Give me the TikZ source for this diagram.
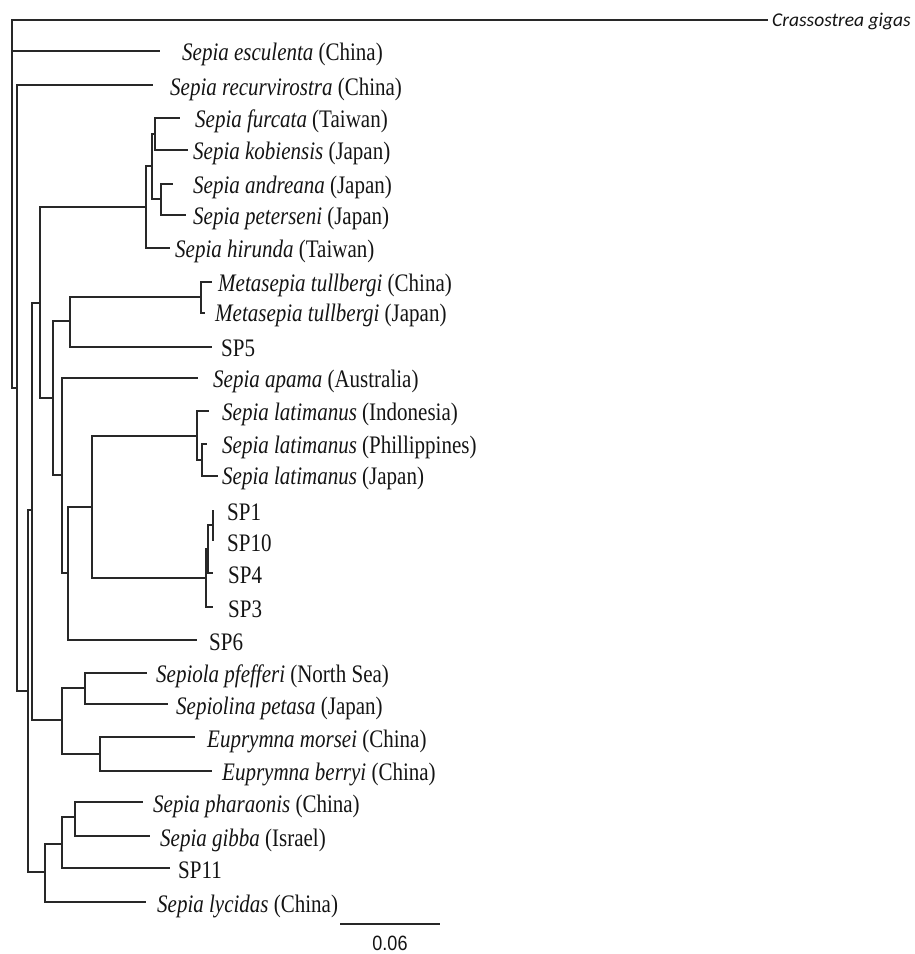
\documentclass[tikz,border=0pt]{standalone}
\usepackage{fontspec}
\usepackage{graphicx}
\setmainfont{Liberation Serif}
\newfontfamily\crassfont{Carlito}
\newfontfamily\barfont{Liberation Sans}
\definecolor{lc}{RGB}{40,40,40}
\definecolor{tc}{RGB}{20,20,20}
\newcommand\tx[1]{\scalebox{1}[1.2]{#1}}
\tikzset{
  br/.style={draw=lc, line width=1.4pt},
  lab/.style={anchor=base west, inner sep=0pt, text=tc, font=\fontsize{21}{24}\selectfont},
}
\begin{document}
\begin{tikzpicture}[x=1pt,y=-1pt]
\useasboundingbox (0,0) rectangle (915,954);
% internal nodes
\coordinate (nR0) at (12,200);
\coordinate (nN1) at (17,388);
\coordinate (nN2) at (28,691);
\coordinate (nC) at (32,510);
\coordinate (nA) at (40,303);
\coordinate (nH) at (146,207);
\coordinate (nI) at (152,166);
\coordinate (nJ) at (155,134);
\coordinate (nK) at (161,199);
\coordinate (nB) at (53,398);
\coordinate (nL) at (70,321);
\coordinate (nM) at (201,297);
\coordinate (nN) at (62,475);
\coordinate (nO) at (68,573);
\coordinate (nP) at (92,507);
\coordinate (nQ) at (197,436);
\coordinate (nS) at (202,460);
\coordinate (nR) at (206,578);
\coordinate (nT) at (208,549);
\coordinate (nU) at (213,525);
\coordinate (nD) at (62,720);
\coordinate (nV) at (85,688);
\coordinate (nW) at (100,754);
\coordinate (nE) at (45,872);
\coordinate (nF) at (62,844);
\coordinate (nG) at (75,817);
% tips
\coordinate (tCras) at (768,20);
\coordinate (tEsc) at (160,51);
\coordinate (tRec) at (153,85);
\coordinate (tFur) at (180,118);
\coordinate (tKob) at (188,150);
\coordinate (tAnd) at (173,184);
\coordinate (tPet) at (186,215);
\coordinate (tHir) at (170,248);
\coordinate (tMetC) at (212,282);
\coordinate (tMetJ) at (205,313);
\coordinate (tSP5) at (212,347);
\coordinate (tApa) at (198,378);
\coordinate (tLatI) at (209,411);
\coordinate (tLatP) at (207,444);
\coordinate (tLatJ) at (218,476);
\coordinate (tSP1) at (213,510);
\coordinate (tSP10) at (213,541);
\coordinate (tSP4) at (213,573);
\coordinate (tSP3) at (213,607);
\coordinate (tSP6) at (197,640);
\coordinate (tSpla) at (147,673);
\coordinate (tSpna) at (168,704);
\coordinate (tMor) at (195,737);
\coordinate (tBer) at (212,771);
\coordinate (tPha) at (143,802);
\coordinate (tGib) at (150,836);
\coordinate (tSP11) at (170,868);
\coordinate (tLyc) at (146,902);
% branches
\draw[br] (nR0) |- (tCras) (nR0) |- (tEsc) (nR0) |- (nN1);
\draw[br] (nN1) |- (tRec) (nN1) |- (nN2);
\draw[br] (nN2) |- (nC) (nN2) |- (nE);
\draw[br] (nC) |- (nA) (nC) |- (nD);
\draw[br] (nA) |- (nH) (nA) |- (nB);
\draw[br] (nH) |- (nI) (nH) |- (tHir);
\draw[br] (nI) |- (nJ) (nI) |- (nK);
\draw[br] (nJ) |- (tFur) (nJ) |- (tKob);
\draw[br] (nK) |- (tAnd) (nK) |- (tPet);
\draw[br] (nB) |- (nL) (nB) |- (nN);
\draw[br] (nL) |- (nM) (nL) |- (tSP5);
\draw[br] (nM) |- (tMetC) (nM) |- (tMetJ);
\draw[br] (nN) |- (tApa) (nN) |- (nO);
\draw[br] (nO) |- (nP) (nO) |- (tSP6);
\draw[br] (nP) |- (nQ) (nP) |- (nR);
\draw[br] (nQ) |- (tLatI) (nQ) |- (nS);
\draw[br] (nS) |- (tLatP) (nS) |- (tLatJ);
\draw[br] (nR) |- (nT) (nR) |- (tSP3);
\draw[br] (nT) |- (nU) (nT) |- (tSP4);
\draw[br] (nU) |- (tSP1) (nU) |- (tSP10);
\draw[br] (nD) |- (nV) (nD) |- (nW);
\draw[br] (nV) |- (tSpla) (nV) |- (tSpna);
\draw[br] (nW) |- (tMor) (nW) |- (tBer);
\draw[br] (nE) |- (nF) (nE) |- (tLyc);
\draw[br] (nF) |- (nG) (nF) |- (tSP11);
\draw[br] (nG) |- (tPha) (nG) |- (tGib);
% labels
\node[anchor=base west, inner sep=0pt, text=tc, font=\crassfont\itshape\fontsize{19.5}{22}\selectfont] (lCras) at (772,26) {Crassostrea gigas};
\node[lab] (lEsc) at (182,60) {\tx{\textit{Sepia esculenta} (China)}};
\node[lab] (lRec) at (170,95) {\tx{\textit{Sepia recurvirostra} (China)}};
\node[lab] (lFur) at (195,127) {\tx{\textit{Sepia furcata} (Taiwan)}};
\node[lab] (lKob) at (193,159) {\tx{\textit{Sepia kobiensis} (Japan)}};
\node[lab] (lAnd) at (193,193) {\tx{\textit{Sepia andreana} (Japan)}};
\node[lab] (lPet) at (193,224) {\tx{\textit{Sepia peterseni} (Japan)}};
\node[lab] (lHir) at (175,257) {\tx{\textit{Sepia hirunda} (Taiwan)}};
\node[lab] (lMetC) at (218,291) {\tx{\textit{Metasepia tullbergi} (China)}};
\node[lab] (lMetJ) at (215,321) {\tx{\textit{Metasepia tullbergi} (Japan)}};
\node[lab] (lSP5) at (221,356) {\tx{SP5}};
\node[lab] (lApa) at (213,387) {\tx{\textit{Sepia apama} (Australia)}};
\node[lab] (lLatI) at (222,420) {\tx{\textit{Sepia latimanus} (Indonesia)}};
\node[lab] (lLatP) at (222,453) {\tx{\textit{Sepia latimanus} (Phillippines)}};
\node[lab] (lLatJ) at (222,484) {\tx{\textit{Sepia latimanus} (Japan)}};
\node[lab] (lSP1) at (227,520) {\tx{SP1}};
\node[lab] (lSP10) at (227,551) {\tx{SP10}};
\node[lab] (lSP4) at (228,583) {\tx{SP4}};
\node[lab] (lSP3) at (228,617) {\tx{SP3}};
\node[lab] (lSP6) at (209,650) {\tx{SP6}};
\node[lab] (lSpla) at (156,682) {\tx{\textit{Sepiola pfefferi} (North Sea)}};
\node[lab] (lSpna) at (176,714) {\tx{\textit{Sepiolina petasa} (Japan)}};
\node[lab] (lMor) at (207,747) {\tx{\textit{Euprymna morsei} (China)}};
\node[lab] (lBer) at (222,780) {\tx{\textit{Euprymna berryi} (China)}};
\node[lab] (lPha) at (153,812) {\tx{\textit{Sepia pharaonis} (China)}};
\node[lab] (lGib) at (160,846) {\tx{\textit{Sepia gibba} (Israel)}};
\node[lab] (lSP11) at (178,878) {\tx{SP11}};
\node[lab] (lLyc) at (157,912) {\tx{\textit{Sepia lycidas} (China)}};
% scale bar
\coordinate (sb1) at (340,924);
\coordinate (sb2) at (440,924);
\draw[br] (sb1) -- (sb2);
\node[inner sep=0pt, text=tc, font=\barfont\fontsize{18}{20}\selectfont] (sbl) at (390,943) {\scalebox{1}[1.15]{0.06}};
\end{tikzpicture}
\end{document}
